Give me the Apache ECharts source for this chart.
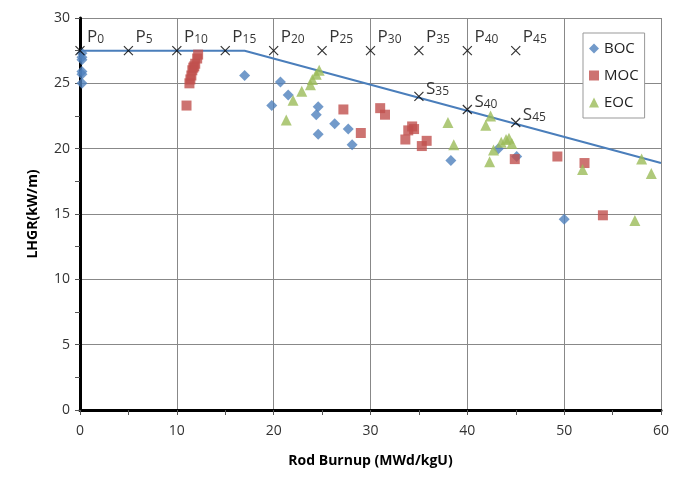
<!DOCTYPE html>
<html><head><meta charset="utf-8">
<script src="https://cdn.jsdelivr.net/npm/echarts@6/dist/echarts.min.js"></script>
<style>html,body{margin:0;padding:0;background:#fff}#c{width:689px;height:493px}</style>
</head><body><div id="c"></div>
<script>
const bocData = [[0.2,27.3],[0.2,27.0],[0.2,26.8],[0.2,25.9],[0.2,25.7],[0.2,25.0],[17.0,25.6],[19.8,23.3],[20.7,25.1],[21.5,24.1],[24.4,22.6],[24.6,23.2],[24.6,21.1],[26.3,21.9],[27.7,21.5],[28.1,20.3],[38.3,19.1],[43.2,20.0],[45.1,19.4],[50.0,14.6]];
const mocData = [[11.0,23.3],[11.3,25.0],[11.4,25.3],[11.5,25.6],[11.6,26.0],[11.7,26.2],[11.8,26.3],[11.9,26.5],[12.1,26.9],[12.2,27.2],[27.2,23.0],[29.0,21.2],[31.0,23.1],[31.5,22.6],[33.6,20.7],[33.9,21.4],[34.3,21.7],[34.5,21.5],[35.3,20.2],[35.8,20.6],[44.9,19.2],[49.3,19.4],[52.1,18.9],[54.0,14.9]];
const eocData = [[21.3,22.2],[22.0,23.7],[22.9,24.4],[23.8,24.9],[24.0,25.3],[24.4,25.7],[24.7,26.0],[38.0,22.0],[38.6,20.3],[41.9,21.8],[42.4,22.5],[42.3,19.0],[42.7,19.9],[43.5,20.5],[44.0,20.7],[44.3,20.8],[44.6,20.4],[51.9,18.4],[57.3,14.5],[58.0,19.2],[59.0,18.1]];
const limitLine = [[0,27.5],[17,27.5],[60,18.9]];
const pPoints = [[0,27.5],[5,27.5],[10,27.5],[15,27.5],[20,27.5],[25,27.5],[30,27.5],[35,27.5],[40,27.5],[45,27.5]];
const pLabels = ['0','5','10','15','20','25','30','35','40','45'];
const sPoints = [[35,24.0],[40,23.0],[45,22.0]];
const sLabels = ['35','40','45'];

const FONT = '"Open Sans", "Noto Sans", sans-serif';
const xPath = 'path://M0,0L10,10M10,0L0,10';
const rich = {
  a:{fontSize:17, fontFamily:FONT, color:'#000', lineHeight:20, verticalAlign:'bottom'},
  b:{fontSize:12, fontFamily:FONT, color:'#000', lineHeight:15, verticalAlign:'bottom'}
};
function markSeries(points, labels, letter, offset){
  return {
    type:'scatter', data: points.map((p,i)=>({value:p, label:{formatter:'{a|'+letter+'}{b|'+labels[i]+'}'}})),
    symbol:xPath, symbolSize:9, z:5,
    itemStyle:{color:'rgba(0,0,0,0)', borderColor:'#000', borderWidth:1.2},
    label:{show:true, position:'right', offset:offset, rich:rich},
    emphasis:{disabled:true}, silent:true
  };
}
const chart = echarts.init(document.getElementById('c'));
chart.setOption({
  animation:false,
  backgroundColor:'#fff',
  grid:{left:80, right:28, top:18, bottom:83},
  legend:{
    data:[{name:'BOC',icon:'diamond'},{name:'MOC',icon:'rect'},{name:'EOC',icon:'triangle'}],
    orient:'vertical', left:583, top:33, itemWidth:10, itemHeight:10, itemGap:12,
    padding:[8,6,8,6], borderColor:'#999', borderWidth:1, backgroundColor:'#fff',
    textStyle:{fontFamily:FONT, fontSize:15, color:'#222'}
  },
  xAxis:[{
    type:'value', min:0, max:60, interval:10,
    name:'Rod Burnup (MWd/kgU)', nameLocation:'middle', nameGap:44,
    nameTextStyle:{fontFamily:FONT, fontSize:14, fontWeight:'bold', color:'#000'},
    axisLine:{lineStyle:{color:'#000', width:1.5}},
    axisTick:{show:true, length:5, lineStyle:{color:'#555'}},
    minorTick:{show:true, splitNumber:2, length:5, lineStyle:{color:'#555'}},
    axisLabel:{fontFamily:FONT, fontSize:14, color:'#333', margin:14},
    splitLine:{show:true, lineStyle:{color:'#888', width:1}}
  },{
    type:'value', position:'top', min:0, max:60,
    axisLine:{show:true, lineStyle:{color:'#000', width:3}},
    axisTick:{show:false}, axisLabel:{show:false}, splitLine:{show:false}
  }],
  yAxis:[{
    type:'value', min:0, max:30, interval:5,
    name:'LHGR(kW/m)', nameLocation:'middle', nameGap:40,
    nameTextStyle:{fontFamily:FONT, fontSize:14, fontWeight:'bold', color:'#000'},
    axisLine:{show:true, lineStyle:{color:'#000', width:1}},
    axisTick:{show:true, length:5, lineStyle:{color:'#555'}},
    minorTick:{show:true, splitNumber:2, length:5, lineStyle:{color:'#555'}},
    axisLabel:{fontFamily:FONT, fontSize:14, color:'#333', margin:10},
    splitLine:{show:true, lineStyle:{color:'#888', width:1}}
  },{
    type:'value', position:'right', min:0, max:30,
    axisLine:{show:true, lineStyle:{color:'#000', width:3}},
    axisTick:{show:false}, axisLabel:{show:false}, splitLine:{show:false}
  }],
  series:[
    {type:'line', data:limitLine, symbol:'none', lineStyle:{color:'#4a7ebb', width:2}, z:3, silent:true},
    {name:'BOC', type:'scatter', data:bocData, symbol:'diamond', symbolSize:11, itemStyle:{color:'#4f81bd'}, z:4},
    {name:'MOC', type:'scatter', data:mocData, symbol:'rect', symbolSize:10, itemStyle:{color:'#c0504d'}, z:4},
    {name:'EOC', type:'scatter', data:eocData, symbol:'triangle', symbolSize:11, itemStyle:{color:'#9bbb59'}, z:4},
    markSeries(pPoints, pLabels, 'P', [-3,-15]),
    markSeries(sPoints, sLabels, 'S', [-3,-9])
  ]
});
</script></body></html>
